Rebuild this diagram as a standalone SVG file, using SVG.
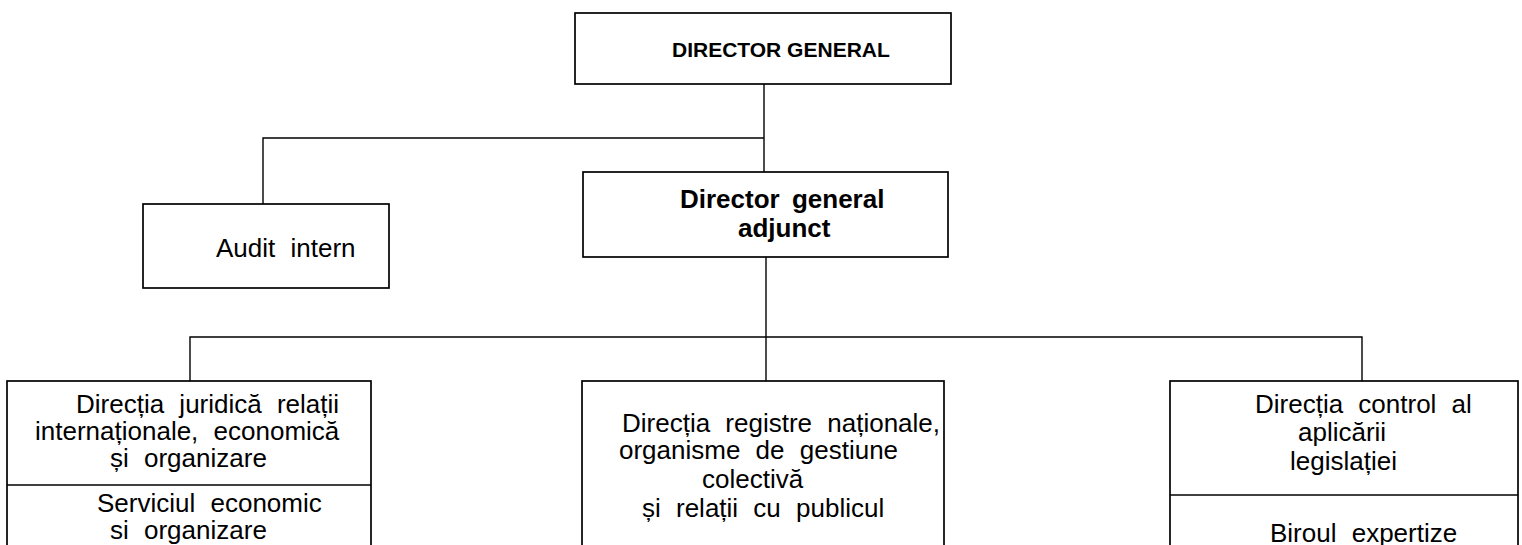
<svg xmlns="http://www.w3.org/2000/svg" width="1522" height="545" viewBox="0 0 1522 545">
<style>
.box{fill:#fff;stroke:#000;stroke-width:1.7}
.ln{fill:none;stroke:#000;stroke-width:1.4}
text{font-family:"Liberation Sans",Arial,sans-serif;fill:#000}
.t{font-size:26px;word-spacing:8px}
.b{font-size:26px;font-weight:bold;word-spacing:5px}
.h{font-size:21px;font-weight:bold}
</style>
<rect width="1522" height="545" fill="#fff"/>
<g id="connectors">
<path class="ln" d="M764 84 V172"/>
<path class="ln" d="M764 138 H263 V204"/>
<path class="ln" d="M766 257 V381"/>
<path class="ln" d="M190 381 V337 H1362 V381"/>
</g>
<g id="director-general">
<rect class="box" x="575" y="13" width="376" height="71"/>
<text class="h" x="672" y="57">DIRECTOR GENERAL</text>
</g>
<g id="audit-intern">
<rect class="box" x="143" y="204" width="246" height="84"/>
<text class="t" x="216" y="257">Audit intern</text>
</g>
<g id="director-general-adjunct">
<rect class="box" x="583" y="172" width="365" height="85"/>
<text class="b" x="680" y="208">Director general</text>
<text class="b" x="738" y="237">adjunct</text>
</g>
<g id="directia-juridica">
<rect class="box" x="7" y="381" width="364" height="200"/>
<path class="ln" d="M7 485 H371"/>
<text class="t" x="76" y="413">Direcția juridică relații</text>
<text class="t" x="35" y="440">internaționale, economică</text>
<text class="t" x="110" y="467">și organizare</text>
<text class="t" x="97" y="512">Serviciul economic</text>
<text class="t" x="110" y="539">si organizare</text>
</g>
<g id="directia-registre">
<rect class="box" x="582" y="381" width="362" height="200"/>
<text class="t" x="622" y="432">Direcția registre naționale,</text>
<text class="t" x="619" y="459">organisme de gestiune</text>
<text class="t" x="702" y="488">colectivă</text>
<text class="t" x="642" y="517">și relații cu publicul</text>
</g>
<g id="directia-control">
<rect class="box" x="1170" y="381" width="348" height="200"/>
<path class="ln" d="M1170 495 H1518"/>
<text class="t" x="1255" y="413">Direcția control al</text>
<text class="t" x="1298" y="441">aplicării</text>
<text class="t" x="1290" y="470">legislației</text>
<text class="t" x="1270" y="542">Biroul expertize</text>
</g>
</svg>
